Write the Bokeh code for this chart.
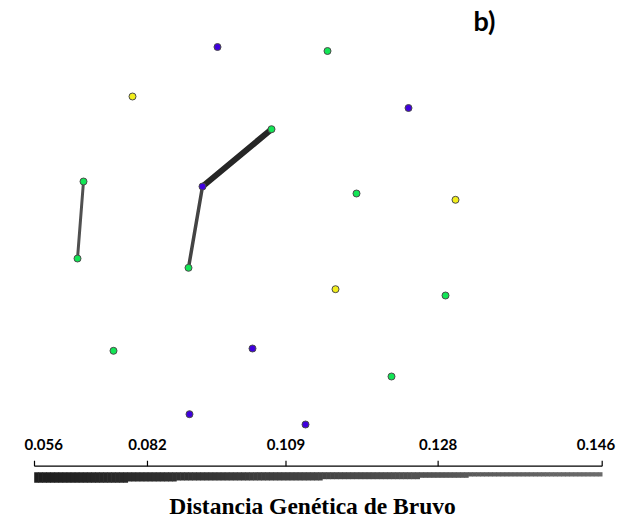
from bokeh.plotting import figure
from bokeh.models import Range1d, ColumnDataSource
from bokeh.core.properties import value
from bokeh.embed import file_html
from bokeh.resources import INLINE

# ---- data ----
node_x = [217, 327, 132, 408, 271, 83, 202, 356, 455, 77, 188, 335, 445, 113, 252, 391, 189, 305]
node_y = [46.5, 50.5, 96, 107.5, 128.7, 181, 186, 193, 199.3, 258, 267.3, 288.7, 295, 350.3, 348, 376, 413.7, 424]
node_group = ["B", "G", "Y", "B", "G", "G", "B", "G", "Y", "G", "G", "Y", "G", "G", "B", "G", "B", "B"]

edge_from = [5, 6, 6]
edge_to = [9, 10, 4]
edge_width = [3.0, 3.5, 6.0]
edge_color = ["#505050", "#444444", "#262626"]

scale_labels = ["0.056", "0.082", "0.109", "0.128", "0.146"]
scale_pos = [0.0, 0.199, 0.443, 0.711, 1.0]        # fraction along the scale bar
bar_breaks = [0.0, 0.164, 0.250, 0.508, 0.677, 0.765, 1.0]
bar_thick = [10.6, 9.3, 8.3, 7.0, 5.6, 4.3]

group_color = {"G": "#12e655", "B": "#3f00dd", "Y": "#f2ee1c"}

# ---- figure ----
W, H = 624, 521
p = figure(width=W, height=H, x_range=Range1d(0, W), y_range=Range1d(H, 0),
           output_backend="svg", toolbar_location=None, min_border=0)
p.axis.visible = False
p.grid.visible = False
p.outline_line_color = None
p.background_fill_color = "white"
p.border_fill_color = "white"

# edges
ex0 = [node_x[i] for i in edge_from]
ey0 = [node_y[i] for i in edge_from]
ex1 = [node_x[i] for i in edge_to]
ey1 = [node_y[i] for i in edge_to]
p.segment(ex0, ey0, ex1, ey1, line_width=edge_width, line_color=edge_color, line_cap="round")

# nodes
src = ColumnDataSource(dict(x=node_x, y=node_y, c=[group_color[g] for g in node_group]))
p.scatter("x", "y", source=src, size=7, fill_color="c", line_color="#4a4a4a", line_width=1)

# scale bar
x0, x1 = 34, 601.7
axis_y = 465.7
tick_x = [x0 + f * (x1 - x0) for f in scale_pos]
p.segment([x0], [axis_y], [x1], [axis_y], line_color="black", line_width=1.2)
p.segment(tick_x, [axis_y - 5.5] * len(tick_x), tick_x, [axis_y] * len(tick_x),
          line_color="black", line_width=1.2)
aligns = ["left"] + ["center"] * (len(scale_labels) - 2) + ["right"]
offs = [-10, 0, 0, 0, 13]
for tx, lab, al, off in zip(tick_x, scale_labels, aligns, offs):
    p.text([tx], [444.3], text=[lab], text_align=al, text_baseline="alphabetic", x_offset=off,
           text_font=value("Lato"), text_font_style="bold", text_font_size="15px", text_color="black")

# gradient bar with stepped thickness
bar_top = 471.7
n = 140
L, R, B_, T_ = [], [], [], []
cols = []
for k in range(n):
    f0 = k / n
    f1 = (k + 1) / n
    fm = (f0 + f1) / 2
    seg = 0
    while seg < len(bar_thick) - 1 and fm >= bar_breaks[seg + 1]:
        seg += 1
    L.append(x0 + f0 * (x1 - x0) - 0.3)
    R.append(x0 + f1 * (x1 - x0) + 0.3)
    T_.append(bar_top)
    B_.append(bar_top + bar_thick[seg])
    g = int(30 + fm * 78)
    cols.append("#%02x%02x%02x" % (g, g, g))
p.quad(left=L, right=R, top=T_, bottom=B_, fill_color=cols, line_color=None)

# titles
p.text([W / 2], [505.5], text=["Distancia Genética de Bruvo"], text_align="center",
       text_baseline="alphabetic", text_font=value("Liberation Serif"), text_font_style="bold",
       text_font_size="23.5px", text_color="black")
p.text([473], [19.5], text=["b)"], text_align="left", text_baseline="alphabetic",
       text_font=value("Lato"), text_font_style="bold", text_font_size="27px", text_color="black")

open("out.html", "w").write(file_html(p, INLINE))
